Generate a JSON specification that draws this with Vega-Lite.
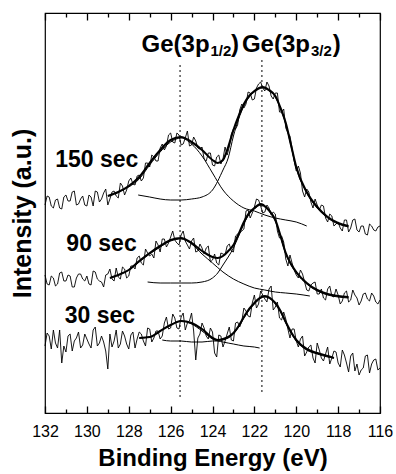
{
"$schema": "https://vega.github.io/schema/vega-lite/v6.json",
"width": 335,
"height": 400,
"autosize": "none",
"padding": {"left": 45, "top": 13, "right": 16, "bottom": 61},
"config": {
  "view": {"stroke": "black", "strokeWidth": 1.2},
  "axis": {"grid": false, "labelFont": "Liberation Sans", "titleFont": "Liberation Sans", "labelColor": "black", "titleColor": "black", "tickColor": "black", "domain": false},
  "text": {"font": "Liberation Sans", "fontWeight": "bold", "color": "black"}
},
"datasets": {
"noisy": [
{"s":"150","e":132,"i":208},{"s":"150","e":131.8,"i":216},{"s":"150","e":131.6,"i":205},{"s":"150","e":131.4,"i":214},{"s":"150","e":131.2,"i":204},{"s":"150","e":131,"i":218},{"s":"150","e":130.8,"i":212},{"s":"150","e":130.6,"i":222},{"s":"150","e":130.4,"i":209},{"s":"150","e":130.2,"i":217},
{"s":"150","e":130,"i":207},{"s":"150","e":129.8,"i":216},{"s":"150","e":129.6,"i":222},{"s":"150","e":129.4,"i":211},{"s":"150","e":129.2,"i":220},{"s":"150","e":129,"i":208},{"s":"150","e":128.8,"i":221},{"s":"150","e":128.6,"i":217},{"s":"150","e":128.4,"i":230},{"s":"150","e":128.2,"i":218},
{"s":"150","e":128,"i":232},{"s":"150","e":127.8,"i":229},{"s":"150","e":127.6,"i":237},{"s":"150","e":127.4,"i":232},{"s":"150","e":127.2,"i":250},{"s":"150","e":127,"i":246},{"s":"150","e":126.8,"i":256},{"s":"150","e":126.6,"i":252},{"s":"150","e":126.4,"i":269},{"s":"150","e":126.2,"i":267},
{"s":"150","e":126,"i":280},{"s":"150","e":125.8,"i":270},{"s":"150","e":125.6,"i":278},{"s":"150","e":125.4,"i":269},{"s":"150","e":125.2,"i":282},{"s":"150","e":125,"i":268},{"s":"150","e":124.8,"i":272},{"s":"150","e":124.6,"i":264},{"s":"150","e":124.4,"i":254},{"s":"150","e":124.2,"i":260},
{"s":"150","e":124,"i":248},{"s":"150","e":123.8,"i":256},{"s":"150","e":123.6,"i":249},{"s":"150","e":123.4,"i":266},{"s":"150","e":123.2,"i":266},{"s":"150","e":123,"i":284},{"s":"150","e":122.8,"i":288},{"s":"150","e":122.6,"i":309},{"s":"150","e":122.4,"i":309},{"s":"150","e":122.2,"i":320},
{"s":"150","e":122,"i":314},{"s":"150","e":121.8,"i":329},{"s":"150","e":121.6,"i":325},{"s":"150","e":121.4,"i":331},{"s":"150","e":121.2,"i":317},{"s":"150","e":121,"i":320},{"s":"150","e":120.8,"i":301},{"s":"150","e":120.6,"i":304},{"s":"150","e":120.4,"i":280},{"s":"150","e":120.2,"i":265},
{"s":"150","e":120,"i":242},{"s":"150","e":119.8,"i":240},{"s":"150","e":119.6,"i":216},{"s":"150","e":119.4,"i":221},{"s":"150","e":119.2,"i":205},{"s":"150","e":119,"i":208},{"s":"150","e":118.8,"i":208},{"s":"150","e":118.6,"i":195},{"s":"150","e":118.4,"i":199},{"s":"150","e":118.2,"i":187},
{"s":"150","e":118,"i":191},{"s":"150","e":117.8,"i":182},{"s":"150","e":117.6,"i":193},{"s":"150","e":117.4,"i":185},{"s":"150","e":117.2,"i":194},{"s":"150","e":117,"i":181},{"s":"150","e":116.8,"i":187},{"s":"150","e":116.6,"i":178},{"s":"150","e":116.4,"i":187},{"s":"150","e":116.2,"i":182},
{"s":"150","e":116,"i":187},
{"s":"150","e":131.9,"i":217},{"s":"150","e":131.7,"i":207},{"s":"150","e":131.5,"i":213},{"s":"150","e":131.3,"i":205},{"s":"150","e":131.1,"i":216},{"s":"150","e":130.9,"i":212},{"s":"150","e":130.7,"i":221},{"s":"150","e":130.5,"i":208},{"s":"150","e":130.3,"i":214},{"s":"150","e":130.1,"i":208},
{"s":"150","e":129.9,"i":218},{"s":"150","e":129.7,"i":207},{"s":"150","e":129.5,"i":221},{"s":"150","e":129.3,"i":214},{"s":"150","e":129.1,"i":224},{"s":"150","e":128.9,"i":214},{"s":"150","e":128.7,"i":222},{"s":"150","e":128.5,"i":215},{"s":"150","e":128.3,"i":227},{"s":"150","e":128.1,"i":223},
{"s":"150","e":127.9,"i":235},{"s":"150","e":127.7,"i":228},{"s":"150","e":127.5,"i":238},{"s":"150","e":127.3,"i":235},{"s":"150","e":127.1,"i":250},{"s":"150","e":126.9,"i":258},{"s":"150","e":126.7,"i":252},{"s":"150","e":126.5,"i":265},{"s":"150","e":126.3,"i":263},{"s":"150","e":126.1,"i":278},
{"s":"150","e":125.9,"i":271},{"s":"150","e":125.7,"i":280},{"s":"150","e":125.5,"i":268},{"s":"150","e":125.3,"i":275},{"s":"150","e":125.1,"i":267},{"s":"150","e":124.9,"i":276},{"s":"150","e":124.7,"i":265},{"s":"150","e":124.5,"i":266},{"s":"150","e":124.3,"i":252},{"s":"150","e":124.1,"i":260},
{"s":"150","e":123.9,"i":247},{"s":"150","e":123.7,"i":258},{"s":"150","e":123.5,"i":254},{"s":"150","e":123.3,"i":258},{"s":"150","e":123.1,"i":279},{"s":"150","e":122.9,"i":284},{"s":"150","e":122.7,"i":303},{"s":"150","e":122.5,"i":305},{"s":"150","e":122.3,"i":321},{"s":"150","e":122.1,"i":313},
{"s":"150","e":121.9,"i":325},{"s":"150","e":121.7,"i":331},{"s":"150","e":121.5,"i":322},{"s":"150","e":121.3,"i":327},{"s":"150","e":121.1,"i":314},{"s":"150","e":120.9,"i":320},{"s":"150","e":120.7,"i":301},{"s":"150","e":120.5,"i":285},{"s":"150","e":120.3,"i":277},{"s":"150","e":120.1,"i":252},
{"s":"150","e":119.9,"i":247},{"s":"150","e":119.7,"i":222},{"s":"150","e":119.5,"i":224},{"s":"150","e":119.3,"i":211},{"s":"150","e":119.1,"i":214},{"s":"150","e":118.9,"i":203},{"s":"150","e":118.7,"i":207},{"s":"150","e":118.5,"i":191},{"s":"150","e":118.3,"i":197},{"s":"150","e":118.1,"i":189},
{"s":"150","e":117.9,"i":185},{"s":"150","e":117.7,"i":193},{"s":"150","e":117.5,"i":181},{"s":"150","e":117.3,"i":193},{"s":"150","e":117.1,"i":183},{"s":"150","e":116.9,"i":187},{"s":"150","e":116.7,"i":179},{"s":"150","e":116.5,"i":189},{"s":"150","e":116.3,"i":183},{"s":"150","e":116.1,"i":186},
{"s":"90","e":132,"i":138},{"s":"90","e":131.8,"i":128},{"s":"90","e":131.6,"i":135},{"s":"90","e":131.4,"i":129},{"s":"90","e":131.2,"i":141},{"s":"90","e":131,"i":132},{"s":"90","e":130.8,"i":137},{"s":"90","e":130.6,"i":126},{"s":"90","e":130.4,"i":139},{"s":"90","e":130.2,"i":134},
{"s":"90","e":130,"i":137},{"s":"90","e":129.8,"i":128},{"s":"90","e":129.6,"i":141},{"s":"90","e":129.4,"i":132},{"s":"90","e":129.2,"i":126},{"s":"90","e":129,"i":139},{"s":"90","e":128.8,"i":134},{"s":"90","e":128.6,"i":145},{"s":"90","e":128.4,"i":134},{"s":"90","e":128.2,"i":144},
{"s":"90","e":128,"i":137},{"s":"90","e":127.8,"i":147},{"s":"90","e":127.6,"i":155},{"s":"90","e":127.4,"i":150},{"s":"90","e":127.2,"i":164},{"s":"90","e":127,"i":157},{"s":"90","e":126.8,"i":155},{"s":"90","e":126.6,"i":168},{"s":"90","e":126.4,"i":174},{"s":"90","e":126.2,"i":166},
{"s":"90","e":126,"i":176},{"s":"90","e":125.8,"i":173},{"s":"90","e":125.6,"i":168},{"s":"90","e":125.4,"i":182},{"s":"90","e":125.2,"i":168},{"s":"90","e":125,"i":172},{"s":"90","e":124.8,"i":161},{"s":"90","e":124.6,"i":169},{"s":"90","e":124.4,"i":159},{"s":"90","e":124.2,"i":167},
{"s":"90","e":124,"i":153},{"s":"90","e":123.8,"i":150},{"s":"90","e":123.6,"i":160},{"s":"90","e":123.4,"i":158},{"s":"90","e":123.2,"i":169},{"s":"90","e":123,"i":161},{"s":"90","e":122.8,"i":179},{"s":"90","e":122.6,"i":182},{"s":"90","e":122.4,"i":202},{"s":"90","e":122.2,"i":195},
{"s":"90","e":122,"i":206},{"s":"90","e":121.8,"i":213},{"s":"90","e":121.6,"i":200},{"s":"90","e":121.4,"i":208},{"s":"90","e":121.2,"i":198},{"s":"90","e":121,"i":199},{"s":"90","e":120.8,"i":175},{"s":"90","e":120.6,"i":171},{"s":"90","e":120.4,"i":147},{"s":"90","e":120.2,"i":150},
{"s":"90","e":120,"i":138},{"s":"90","e":119.8,"i":143},{"s":"90","e":119.6,"i":131},{"s":"90","e":119.4,"i":122},{"s":"90","e":119.2,"i":130},{"s":"90","e":119,"i":119},{"s":"90","e":118.8,"i":124},{"s":"90","e":118.6,"i":113},{"s":"90","e":118.4,"i":127},{"s":"90","e":118.2,"i":116},
{"s":"90","e":118,"i":118},{"s":"90","e":117.8,"i":112},{"s":"90","e":117.6,"i":122},{"s":"90","e":117.4,"i":113},{"s":"90","e":117.2,"i":118},{"s":"90","e":117,"i":108},{"s":"90","e":116.8,"i":119},{"s":"90","e":116.6,"i":114},{"s":"90","e":116.4,"i":120},{"s":"90","e":116.2,"i":111},
{"s":"90","e":116,"i":113},
{"s":"90","e":131.9,"i":129},{"s":"90","e":131.7,"i":137},{"s":"90","e":131.5,"i":127},{"s":"90","e":131.3,"i":140},{"s":"90","e":131.1,"i":132},{"s":"90","e":130.9,"i":138},{"s":"90","e":130.7,"i":126},{"s":"90","e":130.5,"i":135},{"s":"90","e":130.3,"i":139},{"s":"90","e":130.1,"i":132},
{"s":"90","e":129.9,"i":129},{"s":"90","e":129.7,"i":142},{"s":"90","e":129.5,"i":134},{"s":"90","e":129.3,"i":131},{"s":"90","e":129.1,"i":138},{"s":"90","e":128.9,"i":144},{"s":"90","e":128.7,"i":132},{"s":"90","e":128.5,"i":136},{"s":"90","e":128.3,"i":146},{"s":"90","e":128.1,"i":135},
{"s":"90","e":127.9,"i":147},{"s":"90","e":127.7,"i":144},{"s":"90","e":127.5,"i":157},{"s":"90","e":127.3,"i":148},{"s":"90","e":127.1,"i":160},{"s":"90","e":126.9,"i":159},{"s":"90","e":126.7,"i":172},{"s":"90","e":126.5,"i":161},{"s":"90","e":126.3,"i":174},{"s":"90","e":126.1,"i":170},
{"s":"90","e":125.9,"i":182},{"s":"90","e":125.7,"i":170},{"s":"90","e":125.5,"i":178},{"s":"90","e":125.3,"i":172},{"s":"90","e":125.1,"i":164},{"s":"90","e":124.9,"i":175},{"s":"90","e":124.7,"i":162},{"s":"90","e":124.5,"i":165},{"s":"90","e":124.3,"i":165},{"s":"90","e":124.1,"i":151},
{"s":"90","e":123.9,"i":159},{"s":"90","e":123.7,"i":148},{"s":"90","e":123.5,"i":159},{"s":"90","e":123.3,"i":167},{"s":"90","e":123.1,"i":162},{"s":"90","e":122.9,"i":177},{"s":"90","e":122.7,"i":180},{"s":"90","e":122.5,"i":184},{"s":"90","e":122.3,"i":203},{"s":"90","e":122.1,"i":200},
{"s":"90","e":121.9,"i":214},{"s":"90","e":121.7,"i":207},{"s":"90","e":121.5,"i":201},{"s":"90","e":121.3,"i":205},{"s":"90","e":121.1,"i":201},{"s":"90","e":120.9,"i":182},{"s":"90","e":120.7,"i":177},{"s":"90","e":120.5,"i":154},{"s":"90","e":120.3,"i":158},{"s":"90","e":120.1,"i":143},
{"s":"90","e":119.9,"i":135},{"s":"90","e":119.7,"i":139},{"s":"90","e":119.5,"i":123},{"s":"90","e":119.3,"i":128},{"s":"90","e":119.1,"i":131},{"s":"90","e":118.9,"i":119},{"s":"90","e":118.7,"i":115},{"s":"90","e":118.5,"i":124},{"s":"90","e":118.3,"i":117},{"s":"90","e":118.1,"i":124},
{"s":"90","e":117.9,"i":109},{"s":"90","e":117.7,"i":120},{"s":"90","e":117.5,"i":111},{"s":"90","e":117.3,"i":123},{"s":"90","e":117.1,"i":115},{"s":"90","e":116.9,"i":112},{"s":"90","e":116.7,"i":120},{"s":"90","e":116.5,"i":112},{"s":"90","e":116.3,"i":117},{"s":"90","e":116.1,"i":109},
{"s":"30","e":132,"i":67},{"s":"30","e":131.8,"i":77},{"s":"30","e":131.6,"i":83},{"s":"30","e":131.4,"i":65},{"s":"30","e":131.2,"i":50},{"s":"30","e":131,"i":61},{"s":"30","e":130.8,"i":79},{"s":"30","e":130.6,"i":72},{"s":"30","e":130.4,"i":81},{"s":"30","e":130.2,"i":68},
{"s":"30","e":130,"i":74},{"s":"30","e":129.8,"i":65},{"s":"30","e":129.6,"i":86},{"s":"30","e":129.4,"i":70},{"s":"30","e":129.2,"i":71},{"s":"30","e":129,"i":44},{"s":"30","e":128.8,"i":66},{"s":"30","e":128.6,"i":83},{"s":"30","e":128.4,"i":69},{"s":"30","e":128.2,"i":77},
{"s":"30","e":128,"i":64},{"s":"30","e":127.8,"i":81},{"s":"30","e":127.6,"i":74},{"s":"30","e":127.4,"i":79},{"s":"30","e":127.2,"i":67},{"s":"30","e":127,"i":84},{"s":"30","e":126.8,"i":75},{"s":"30","e":126.6,"i":82},{"s":"30","e":126.4,"i":77},{"s":"30","e":126.2,"i":96},
{"s":"30","e":126,"i":85},{"s":"30","e":125.8,"i":95},{"s":"30","e":125.6,"i":84},{"s":"30","e":125.4,"i":100},{"s":"30","e":125.2,"i":90},{"s":"30","e":125,"i":100},{"s":"30","e":124.8,"i":53},{"s":"30","e":124.6,"i":79},{"s":"30","e":124.4,"i":85},{"s":"30","e":124.2,"i":74},
{"s":"30","e":124,"i":81},{"s":"30","e":123.8,"i":56},{"s":"30","e":123.6,"i":77},{"s":"30","e":123.4,"i":72},{"s":"30","e":123.2,"i":86},{"s":"30","e":123,"i":72},{"s":"30","e":122.8,"i":91},{"s":"30","e":122.6,"i":92},{"s":"30","e":122.4,"i":102},{"s":"30","e":122.2,"i":96},
{"s":"30","e":122,"i":118},{"s":"30","e":121.8,"i":109},{"s":"30","e":121.6,"i":118},{"s":"30","e":121.4,"i":111},{"s":"30","e":121.2,"i":127},{"s":"30","e":121,"i":106},{"s":"30","e":120.8,"i":95},{"s":"30","e":120.6,"i":101},{"s":"30","e":120.4,"i":84},{"s":"30","e":120.2,"i":84},
{"s":"30","e":120,"i":72},{"s":"30","e":119.8,"i":74},{"s":"30","e":119.6,"i":57},{"s":"30","e":119.4,"i":66},{"s":"30","e":119.2,"i":55},{"s":"30","e":119,"i":70},{"s":"30","e":118.8,"i":55},{"s":"30","e":118.6,"i":59},{"s":"30","e":118.4,"i":49},{"s":"30","e":118.2,"i":62},
{"s":"30","e":118,"i":50},{"s":"30","e":117.8,"i":63},{"s":"30","e":117.6,"i":50},{"s":"30","e":117.4,"i":57},{"s":"30","e":117.2,"i":42},{"s":"30","e":117,"i":38},{"s":"30","e":116.8,"i":45},{"s":"30","e":116.6,"i":58},{"s":"30","e":116.4,"i":49},{"s":"30","e":116.2,"i":54},
{"s":"30","e":116,"i":45},
{"s":"30","e":131.9,"i":80},{"s":"30","e":131.7,"i":64},{"s":"30","e":131.5,"i":70},{"s":"30","e":131.3,"i":83},{"s":"30","e":131.1,"i":67},{"s":"30","e":130.9,"i":77},{"s":"30","e":130.7,"i":62},{"s":"30","e":130.5,"i":75},{"s":"30","e":130.3,"i":65},{"s":"30","e":130.1,"i":79},
{"s":"30","e":129.9,"i":69},{"s":"30","e":129.7,"i":83},{"s":"30","e":129.5,"i":67},{"s":"30","e":129.3,"i":77},{"s":"30","e":129.1,"i":62},{"s":"30","e":128.9,"i":79},{"s":"30","e":128.7,"i":72},{"s":"30","e":128.5,"i":65},{"s":"30","e":128.3,"i":82},{"s":"30","e":128.1,"i":69},
{"s":"30","e":127.9,"i":78},{"s":"30","e":127.7,"i":65},{"s":"30","e":127.5,"i":81},{"s":"30","e":127.3,"i":72},{"s":"30","e":127.1,"i":85},{"s":"30","e":126.9,"i":71},{"s":"30","e":126.7,"i":82},{"s":"30","e":126.5,"i":74},{"s":"30","e":126.3,"i":90},{"s":"30","e":126.1,"i":84},
{"s":"30","e":125.9,"i":99},{"s":"30","e":125.7,"i":85},{"s":"30","e":125.5,"i":96},{"s":"30","e":125.3,"i":83},{"s":"30","e":125.1,"i":92},{"s":"30","e":124.9,"i":82},{"s":"30","e":124.7,"i":75},{"s":"30","e":124.5,"i":90},{"s":"30","e":124.3,"i":77},{"s":"30","e":124.1,"i":85},
{"s":"30","e":123.9,"i":60},{"s":"30","e":123.7,"i":78},{"s":"30","e":123.5,"i":66},{"s":"30","e":123.3,"i":79},{"s":"30","e":123.1,"i":73},{"s":"30","e":122.9,"i":90},{"s":"30","e":122.7,"i":86},{"s":"30","e":122.5,"i":105},{"s":"30","e":122.3,"i":97},{"s":"30","e":122.1,"i":110},
{"s":"30","e":121.9,"i":105},{"s":"30","e":121.7,"i":122},{"s":"30","e":121.5,"i":114},{"s":"30","e":121.3,"i":124},{"s":"30","e":121.1,"i":103},{"s":"30","e":120.9,"i":111},{"s":"30","e":120.7,"i":93},{"s":"30","e":120.5,"i":94},{"s":"30","e":120.3,"i":75},{"s":"30","e":120.1,"i":84},
{"s":"30","e":119.9,"i":66},{"s":"30","e":119.7,"i":77},{"s":"30","e":119.5,"i":61},{"s":"30","e":119.3,"i":68},{"s":"30","e":119.1,"i":50},{"s":"30","e":118.9,"i":63},{"s":"30","e":118.7,"i":52},{"s":"30","e":118.5,"i":66},{"s":"30","e":118.3,"i":55},{"s":"30","e":118.1,"i":61},
{"s":"30","e":117.9,"i":46},{"s":"30","e":117.7,"i":58},{"s":"30","e":117.5,"i":41},{"s":"30","e":117.3,"i":60},{"s":"30","e":117.1,"i":49},{"s":"30","e":116.9,"i":43},{"s":"30","e":116.7,"i":57},{"s":"30","e":116.5,"i":40},{"s":"30","e":116.3,"i":53},{"s":"30","e":116.1,"i":43}
],
"fits": [
{"s":"150","c":"env","e":129,"i":217},{"s":"150","c":"env","e":128.5,"i":221},{"s":"150","c":"env","e":128,"i":227},{"s":"150","c":"env","e":127.5,"i":236},{"s":"150","c":"env","e":127,"i":250},{"s":"150","c":"env","e":126.5,"i":263},{"s":"150","c":"env","e":126,"i":273},{"s":"150","c":"env","e":125.5,"i":276},{"s":"150","c":"env","e":125,"i":271},{"s":"150","c":"env","e":124.5,"i":263},{"s":"150","c":"env","e":124,"i":253},{"s":"150","c":"env","e":123.75,"i":250},{"s":"150","c":"env","e":123.5,"i":253},{"s":"150","c":"env","e":123.25,"i":266},{"s":"150","c":"env","e":123,"i":283},{"s":"150","c":"env","e":122.75,"i":297},{"s":"150","c":"env","e":122.5,"i":309},{"s":"150","c":"env","e":122.25,"i":317},{"s":"150","c":"env","e":122,"i":322},{"s":"150","c":"env","e":121.6,"i":326},{"s":"150","c":"env","e":121.3,"i":323},{"s":"150","c":"env","e":121,"i":317},{"s":"150","c":"env","e":120.75,"i":305},{"s":"150","c":"env","e":120.5,"i":290},{"s":"150","c":"env","e":120.25,"i":268},{"s":"150","c":"env","e":120,"i":246},{"s":"150","c":"env","e":119.5,"i":221},{"s":"150","c":"env","e":119,"i":206},{"s":"150","c":"env","e":118.5,"i":196},{"s":"150","c":"env","e":118,"i":190},{"s":"150","c":"env","e":117.5,"i":187},
{"s":"150","c":"p1","e":128.5,"i":221},{"s":"150","c":"p1","e":128,"i":226},{"s":"150","c":"p1","e":127.5,"i":234},{"s":"150","c":"p1","e":127,"i":248},{"s":"150","c":"p1","e":126.5,"i":261},{"s":"150","c":"p1","e":126,"i":271},{"s":"150","c":"p1","e":125.5,"i":275},{"s":"150","c":"p1","e":125,"i":269},{"s":"150","c":"p1","e":124.5,"i":257},{"s":"150","c":"p1","e":124,"i":240},{"s":"150","c":"p1","e":123.5,"i":223},{"s":"150","c":"p1","e":123,"i":212},{"s":"150","c":"p1","e":122.5,"i":205},{"s":"150","c":"p1","e":122,"i":202},{"s":"150","c":"p1","e":121.5,"i":198},{"s":"150","c":"p1","e":121,"i":195},{"s":"150","c":"p1","e":120.5,"i":193},{"s":"150","c":"p1","e":120,"i":191},{"s":"150","c":"p1","e":119.5,"i":187},
{"s":"150","c":"p3","e":127.55,"i":218},{"s":"150","c":"p3","e":127,"i":216},{"s":"150","c":"p3","e":126.5,"i":214},{"s":"150","c":"p3","e":126,"i":213},{"s":"150","c":"p3","e":125.5,"i":213},{"s":"150","c":"p3","e":125,"i":214},{"s":"150","c":"p3","e":124.5,"i":216},{"s":"150","c":"p3","e":124,"i":223},{"s":"150","c":"p3","e":123.5,"i":243},{"s":"150","c":"p3","e":123.25,"i":255},{"s":"150","c":"p3","e":123,"i":277},{"s":"150","c":"p3","e":122.75,"i":294},{"s":"150","c":"p3","e":122.5,"i":307},{"s":"150","c":"p3","e":122.25,"i":316},{"s":"150","c":"p3","e":122,"i":321},{"s":"150","c":"p3","e":121.6,"i":325},{"s":"150","c":"p3","e":121.3,"i":322},{"s":"150","c":"p3","e":121,"i":316},{"s":"150","c":"p3","e":120.75,"i":304},{"s":"150","c":"p3","e":120.5,"i":289},{"s":"150","c":"p3","e":120.25,"i":267},{"s":"150","c":"p3","e":120,"i":245},{"s":"150","c":"p3","e":119.5,"i":220},{"s":"150","c":"p3","e":119,"i":205},{"s":"150","c":"p3","e":118.5,"i":195},{"s":"150","c":"p3","e":118,"i":189},{"s":"150","c":"p3","e":117.5,"i":186},
{"s":"90","c":"env","e":128.9,"i":135},{"s":"90","c":"env","e":128.5,"i":138},{"s":"90","c":"env","e":128,"i":143},{"s":"90","c":"env","e":127.5,"i":152},{"s":"90","c":"env","e":127,"i":160},{"s":"90","c":"env","e":126.5,"i":167},{"s":"90","c":"env","e":126,"i":173},{"s":"90","c":"env","e":125.5,"i":175},{"s":"90","c":"env","e":125,"i":170},{"s":"90","c":"env","e":124.5,"i":162},{"s":"90","c":"env","e":124,"i":156},{"s":"90","c":"env","e":123.75,"i":155},{"s":"90","c":"env","e":123.5,"i":157},{"s":"90","c":"env","e":123.25,"i":162},{"s":"90","c":"env","e":123,"i":168},{"s":"90","c":"env","e":122.75,"i":179},{"s":"90","c":"env","e":122.5,"i":191},{"s":"90","c":"env","e":122.25,"i":200},{"s":"90","c":"env","e":122,"i":205},{"s":"90","c":"env","e":121.7,"i":209},{"s":"90","c":"env","e":121.4,"i":205},{"s":"90","c":"env","e":121.2,"i":200},{"s":"90","c":"env","e":121,"i":193},{"s":"90","c":"env","e":120.75,"i":177},{"s":"90","c":"env","e":120.5,"i":160},{"s":"90","c":"env","e":120.25,"i":149},{"s":"90","c":"env","e":120,"i":141},{"s":"90","c":"env","e":119.5,"i":130},{"s":"90","c":"env","e":119,"i":123},{"s":"90","c":"env","e":118.5,"i":119},{"s":"90","c":"env","e":118,"i":117},{"s":"90","c":"env","e":117.5,"i":116},
{"s":"90","c":"p1","e":128.9,"i":135},{"s":"90","c":"p1","e":128.5,"i":138},{"s":"90","c":"p1","e":128,"i":143},{"s":"90","c":"p1","e":127.5,"i":151},{"s":"90","c":"p1","e":127,"i":159},{"s":"90","c":"p1","e":126.5,"i":166},{"s":"90","c":"p1","e":126,"i":172},{"s":"90","c":"p1","e":125.5,"i":174},{"s":"90","c":"p1","e":125,"i":169},{"s":"90","c":"p1","e":124.5,"i":159},{"s":"90","c":"p1","e":124,"i":150},{"s":"90","c":"p1","e":123.5,"i":141},{"s":"90","c":"p1","e":123,"i":134},{"s":"90","c":"p1","e":122.5,"i":129},{"s":"90","c":"p1","e":122,"i":125},{"s":"90","c":"p1","e":121.5,"i":123},{"s":"90","c":"p1","e":121,"i":121},{"s":"90","c":"p1","e":120.5,"i":120},{"s":"90","c":"p1","e":120,"i":119},{"s":"90","c":"p1","e":119.35,"i":117},
{"s":"90","c":"p3","e":127.1,"i":131},{"s":"90","c":"p3","e":126.5,"i":130},{"s":"90","c":"p3","e":126,"i":130},{"s":"90","c":"p3","e":125.5,"i":130},{"s":"90","c":"p3","e":125,"i":130},{"s":"90","c":"p3","e":124.5,"i":131},{"s":"90","c":"p3","e":124,"i":135},{"s":"90","c":"p3","e":123.75,"i":140},{"s":"90","c":"p3","e":123.5,"i":148},{"s":"90","c":"p3","e":123.25,"i":156},{"s":"90","c":"p3","e":123,"i":165},{"s":"90","c":"p3","e":122.75,"i":177},{"s":"90","c":"p3","e":122.5,"i":189},{"s":"90","c":"p3","e":122.25,"i":199},{"s":"90","c":"p3","e":122,"i":204},{"s":"90","c":"p3","e":121.7,"i":208},{"s":"90","c":"p3","e":121.4,"i":204},{"s":"90","c":"p3","e":121.2,"i":199},{"s":"90","c":"p3","e":121,"i":192},{"s":"90","c":"p3","e":120.75,"i":176},{"s":"90","c":"p3","e":120.5,"i":159},{"s":"90","c":"p3","e":120.25,"i":148},{"s":"90","c":"p3","e":120,"i":140},{"s":"90","c":"p3","e":119.5,"i":129},{"s":"90","c":"p3","e":119,"i":122},{"s":"90","c":"p3","e":118.5,"i":118},{"s":"90","c":"p3","e":118,"i":116},{"s":"90","c":"p3","e":117.5,"i":115},
{"s":"30","c":"env","e":127.5,"i":75},{"s":"30","c":"env","e":127,"i":76},{"s":"30","c":"env","e":126.5,"i":82},{"s":"30","c":"env","e":126,"i":88},{"s":"30","c":"env","e":125.5,"i":92},{"s":"30","c":"env","e":125,"i":90},{"s":"30","c":"env","e":124.5,"i":84},{"s":"30","c":"env","e":124,"i":75},{"s":"30","c":"env","e":123.75,"i":73},{"s":"30","c":"env","e":123.5,"i":74},{"s":"30","c":"env","e":123.25,"i":76},{"s":"30","c":"env","e":123,"i":80},{"s":"30","c":"env","e":122.75,"i":87},{"s":"30","c":"env","e":122.5,"i":96},{"s":"30","c":"env","e":122.25,"i":104},{"s":"30","c":"env","e":122,"i":110},{"s":"30","c":"env","e":121.75,"i":115},{"s":"30","c":"env","e":121.5,"i":117},{"s":"30","c":"env","e":121.25,"i":115},{"s":"30","c":"env","e":121,"i":110},{"s":"30","c":"env","e":120.75,"i":102},{"s":"30","c":"env","e":120.5,"i":91},{"s":"30","c":"env","e":120.25,"i":81},{"s":"30","c":"env","e":120,"i":73},{"s":"30","c":"env","e":119.5,"i":64},{"s":"30","c":"env","e":119,"i":60},{"s":"30","c":"env","e":118.5,"i":57},{"s":"30","c":"env","e":118.2,"i":55},
{"s":"30","c":"p1","e":127.5,"i":75},{"s":"30","c":"p1","e":127,"i":76},{"s":"30","c":"p1","e":126.5,"i":82},{"s":"30","c":"p1","e":126,"i":88},{"s":"30","c":"p1","e":125.5,"i":92},{"s":"30","c":"p1","e":125,"i":89},{"s":"30","c":"p1","e":124.5,"i":82},{"s":"30","c":"p1","e":124,"i":74},{"s":"30","c":"p1","e":123.5,"i":71},{"s":"30","c":"p1","e":123,"i":69},{"s":"30","c":"p1","e":122.5,"i":67},{"s":"30","c":"p1","e":122,"i":66},{"s":"30","c":"p1","e":121.75,"i":65},
{"s":"30","c":"p3","e":126.4,"i":73},{"s":"30","c":"p3","e":126,"i":72},{"s":"30","c":"p3","e":125.5,"i":72},{"s":"30","c":"p3","e":125,"i":71},{"s":"30","c":"p3","e":124.5,"i":71},{"s":"30","c":"p3","e":124,"i":72},{"s":"30","c":"p3","e":123.75,"i":72},{"s":"30","c":"p3","e":123.5,"i":73},{"s":"30","c":"p3","e":123.25,"i":75},{"s":"30","c":"p3","e":123,"i":79},{"s":"30","c":"p3","e":122.75,"i":86},{"s":"30","c":"p3","e":122.5,"i":95},{"s":"30","c":"p3","e":122.25,"i":103},{"s":"30","c":"p3","e":122,"i":109},{"s":"30","c":"p3","e":121.75,"i":114},{"s":"30","c":"p3","e":121.5,"i":116},{"s":"30","c":"p3","e":121.25,"i":114},{"s":"30","c":"p3","e":121,"i":109},{"s":"30","c":"p3","e":120.75,"i":101},{"s":"30","c":"p3","e":120.5,"i":90},{"s":"30","c":"p3","e":120.25,"i":80},{"s":"30","c":"p3","e":120,"i":72},{"s":"30","c":"p3","e":119.5,"i":63},{"s":"30","c":"p3","e":119,"i":59},{"s":"30","c":"p3","e":118.5,"i":56},{"s":"30","c":"p3","e":118.2,"i":55}
],
"peaks": [
{"e":125.55,"i":16,"i2":348},
{"e":121.64,"i":21,"i2":355}
],
"head": [
{"part":"base","t":"Ge(3p","e":124.14,"i":361},
{"part":"base","t":"Ge(3p","e":119.345,"i":361},
{"part":"sub","t":"1/2","e":124.1,"i":357},
{"part":"sub","t":"3/2","e":119.3,"i":357},
{"part":"close","t":")","e":123.12,"i":361},
{"part":"close","t":")","e":118.26,"i":361}
],
"times": [
{"t":"150 sec","e":127.54,"i":246},
{"t":"90 sec","e":127.62,"i":162},
{"t":"30 sec","e":127.7,"i":90}
]
},
"resolve": {"axis": {"x": "independent", "y": "independent"}},
"layer": [
{
  "data": {"name": "noisy"},
  "mark": {"type": "line", "color": "black", "strokeWidth": 0.9},
  "encoding": {
    "x": {"field": "e", "type": "quantitative",
      "scale": {"domain": [116, 132], "reverse": true, "nice": false, "zero": false},
      "axis": {"orient": "bottom", "values": [116,117,118,119,120,121,122,123,124,125,126,127,128,129,130,131,132],
        "labelExpr": "datum.value % 2 === 0 ? datum.label : ''",
        "tickSize": {"condition": {"test": "datum.value % 2 === 0", "value": -7}, "value": -4},
        "tickWidth": 1.3,
        "labelPadding": 17, "labelFontSize": 16, "labelFlush": false, "labelOverlap": false, "labelBound": false,
        "title": "Binding Energy (eV)", "titleFontSize": 24, "titleFontWeight": "bold", "titlePadding": 4}},
    "y": {"field": "i", "type": "quantitative",
      "scale": {"domain": [0, 400], "nice": false, "zero": false},
      "axis": {"orient": "left", "title": "Intensity (a.u.)", "labels": false, "ticks": false, "domain": false,
        "titleFontSize": 25, "titleFontWeight": "bold", "titlePadding": 10}},
    "detail": {"field": "s"}
  }
},
{
  "data": {"name": "fits"},
  "transform": [{"filter": "datum.c !== 'env'"}],
  "mark": {"type": "line", "color": "black", "strokeWidth": 1, "interpolate": "monotone"},
  "encoding": {
    "x": {"field": "e", "type": "quantitative",
      "axis": {"orient": "top", "values": [116,117,118,119,120,121,122,123,124,125,126,127,128,129,130,131,132],
        "labels": false, "title": null,
        "tickSize": {"condition": {"test": "datum.value % 2 === 0", "value": -7}, "value": -4},
        "tickWidth": 1.3}},
    "y": {"field": "i", "type": "quantitative", "axis": null},
    "detail": [{"field": "s"}, {"field": "c"}]
  }
},
{
  "data": {"name": "fits"},
  "transform": [{"filter": "datum.c === 'env'"}],
  "mark": {"type": "line", "color": "black", "strokeWidth": 2.1, "interpolate": "monotone"},
  "encoding": {
    "x": {"field": "e", "type": "quantitative", "axis": null},
    "y": {"field": "i", "type": "quantitative", "axis": null},
    "detail": {"field": "s"}
  }
},
{
  "data": {"name": "peaks"},
  "mark": {"type": "rule", "color": "black", "strokeWidth": 1, "strokeDash": [2, 3]},
  "encoding": {
    "x": {"field": "e", "type": "quantitative", "axis": null},
    "y": {"field": "i", "type": "quantitative", "axis": null},
    "y2": {"field": "i2"}
  }
},
{
  "data": {"name": "head"},
  "transform": [{"filter": "datum.part === 'base'"}],
  "mark": {"type": "text", "align": "right", "baseline": "alphabetic", "fontSize": 24},
  "encoding": {
    "x": {"field": "e", "type": "quantitative", "axis": null},
    "y": {"field": "i", "type": "quantitative", "axis": null},
    "text": {"field": "t"}
  }
},
{
  "data": {"name": "head"},
  "transform": [{"filter": "datum.part === 'sub'"}],
  "mark": {"type": "text", "align": "left", "baseline": "alphabetic", "fontSize": 15},
  "encoding": {
    "x": {"field": "e", "type": "quantitative", "axis": null},
    "y": {"field": "i", "type": "quantitative", "axis": null},
    "text": {"field": "t"}
  }
},
{
  "data": {"name": "head"},
  "transform": [{"filter": "datum.part === 'close'"}],
  "mark": {"type": "text", "align": "left", "baseline": "alphabetic", "fontSize": 24},
  "encoding": {
    "x": {"field": "e", "type": "quantitative", "axis": null},
    "y": {"field": "i", "type": "quantitative", "axis": null},
    "text": {"field": "t"}
  }
},
{
  "data": {"name": "times"},
  "mark": {"type": "text", "align": "right", "baseline": "alphabetic", "fontSize": 23},
  "encoding": {
    "x": {"field": "e", "type": "quantitative", "axis": null},
    "y": {"field": "i", "type": "quantitative", "axis": null},
    "text": {"field": "t"}
  }
}
]
}
